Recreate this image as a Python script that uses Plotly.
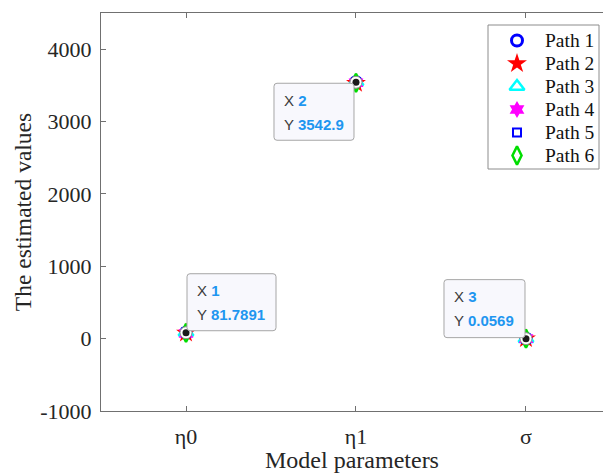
import plotly.graph_objects as go

# Parameter index positions and their labels
param_pos = [1, 2, 3]
param_labels = ["η0", "η1", "σ"]

# Estimated values for each degradation path (η0, η1, σ)
path1 = [81.7891, 3542.9, 0.0569]
path2 = [76.4, 3528.6, 0.0612]
path3 = [88.2, 3551.3, 0.0534]
path4 = [70.9, 3536.4, 0.0587]
path5 = [84.6, 3547.7, 0.0551]
path6 = [79.3, 3533.8, 0.0598]

path_names = ["Path 1", "Path 2", "Path 3", "Path 4", "Path 5", "Path 6"]
path_values = [path1, path2, path3, path4, path5, path6]

# Y axis ticks
y_ticks = [-1000, 0, 1000, 2000, 3000, 4000]
y_tick_text = ["-1000", "0", "1000", "2000", "3000", "4000"]

# Data tips shown on Path 1
tip_x = [1, 2, 3]
tip_y = [81.7891, 3542.9, 0.0569]
tip_text = ["81.7891", "3542.9", "0.0569"]

styles = [
    dict(symbol="circle-open", color="#0000ff", size=11, line=dict(width=3, color="#0000ff")),
    dict(symbol="star", color="#ff0000", size=15, line=dict(width=0, color="#ff0000")),
    dict(symbol="triangle-up-open", color="#00ffff", size=13, line=dict(width=2.5, color="#00ffff")),
    dict(symbol="hexagram", color="#ff00ff", size=13, line=dict(width=0, color="#ff00ff")),
    dict(symbol="square-open", color="#0000ff", size=8, line=dict(width=2, color="#0000ff")),
    dict(symbol="diamond-tall-open", color="#00dd00", size=13, line=dict(width=2.5, color="#00dd00")),
]

PLOT_W, PLOT_H = 502, 398  # plot area size in pixels

fig = go.Figure()
for name, vals, st in zip(path_names, path_values, styles):
    fig.add_trace(go.Scatter(x=param_pos, y=vals, mode="markers", name=name,
                             marker=st, hoverinfo="skip", showlegend=False))

# Data tip points: white ring with black center
fig.add_trace(go.Scatter(x=tip_x, y=tip_y, mode="markers", showlegend=False,
                         marker=dict(symbol="circle", size=12, color="white",
                                     line=dict(width=1, color="#909090")),
                         hoverinfo="skip"))
fig.add_trace(go.Scatter(x=tip_x, y=tip_y, mode="markers", showlegend=False,
                         marker=dict(symbol="circle", size=7, color="#1a1a1a"),
                         hoverinfo="skip"))


def rrect(x0, x1, y0, y1, r=3):
    return (f"M{x0 + r},{y0} L{x1 - r},{y0} Q{x1},{y0} {x1},{y0 + r} "
            f"L{x1},{y1 - r} Q{x1},{y1} {x1 - r},{y1} L{x0 + r},{y1} "
            f"Q{x0},{y1} {x0},{y1 - r} L{x0},{y0 + r} Q{x0},{y0} {x0 + r},{y0} Z")


# box pixel offsets relative to the tip point: (left, right, bottom, top)
boxes = [(1, 90, 2, 59), (-82, -2, -58, -1), (-82, -1, 1, 59)]
shapes = []
annotations = []
for xv, yv, txt, (bl, br, bb, bt) in zip(tip_x, tip_y, tip_text, boxes):
    shapes.append(dict(type="path", xref="x", yref="y", xsizemode="pixel",
                       ysizemode="pixel", xanchor=xv, yanchor=yv,
                       path=rrect(bl, br, bb, bt), fillcolor="#f8f8fd",
                       line=dict(color="#a6a6a6", width=1), layer="above"))
    for lab, val, dy in (("X", str(xv), bt - 17), ("Y", txt, bt - 41)):
        annotations.append(dict(
            x=xv, y=yv, xref="x", yref="y", showarrow=False,
            xanchor="left", yanchor="middle", xshift=bl + 8, yshift=dy,
            text=f"<span style='color:#3c3c3c'>{lab}</span> "
                 f"<span style='color:#1e96f0'><b>{val}</b></span>",
            font=dict(family="Liberation Sans, Arial", size=15)))

# Legend: box, symbols and labels placed in plot-area pixel coordinates
LEG_X0, LEG_X1, LEG_Y0, LEG_Y1 = 387, 498, 242, 386
leg_sym_x = 416
leg_txt_x = 442
leg_y = [370.5, 347.5, 324.5, 301.5, 278.5, 255.5]
shapes.append(dict(type="rect", xref="x2", yref="y2", x0=LEG_X0, x1=LEG_X1,
                   y0=LEG_Y0, y1=LEG_Y1, fillcolor="white",
                   line=dict(color="#8c8c8c", width=1), layer="below"))
for name, st, ly in zip(path_names, styles, leg_y):
    fig.add_trace(go.Scatter(x=[leg_sym_x], y=[ly], xaxis="x2", yaxis="y2",
                             mode="markers", marker=st, showlegend=False,
                             hoverinfo="skip"))
    annotations.append(dict(x=leg_txt_x, y=ly, xref="x2", yref="y2",
                            showarrow=False, xanchor="left", yanchor="middle",
                            text=name, font=dict(family="Liberation Serif, Times New Roman",
                                                 size=19.5, color="#111")))

fig.update_layout(
    width=603, height=473,
    margin=dict(l=101, r=0, t=13, b=62),
    paper_bgcolor="white", plot_bgcolor="white",
    font=dict(family="Liberation Serif, Times New Roman", color="#262626"),
    shapes=shapes, annotations=annotations, showlegend=False,
    xaxis=dict(range=[0.5, 3.453], tickmode="array", tickvals=param_pos,
               ticktext=param_labels, ticks="inside", ticklen=5,
               tickcolor="#707070", showline=True, linecolor="#707070",
               mirror="ticks", showgrid=False, zeroline=False,
               tickfont=dict(size=22), ticklabelstandoff=6,
               title=dict(text="Model parameters", font=dict(size=24), standoff=4)),
    yaxis=dict(range=[-1000, 4500], tickmode="array",
               tickvals=y_ticks, ticktext=y_tick_text,
               ticks="inside", ticklen=5, tickcolor="#707070",
               showline=True, linecolor="#707070", mirror=False,
               showgrid=False, zeroline=False, tickfont=dict(size=22),
               ticklabelstandoff=4,
               title=dict(text="The estimated values", font=dict(size=23.5), standoff=2)),
    xaxis2=dict(overlaying="x", range=[0, PLOT_W], visible=False, fixedrange=True),
    yaxis2=dict(overlaying="y", range=[0, PLOT_H], visible=False, fixedrange=True),
)

fig.write_html("out.html")
